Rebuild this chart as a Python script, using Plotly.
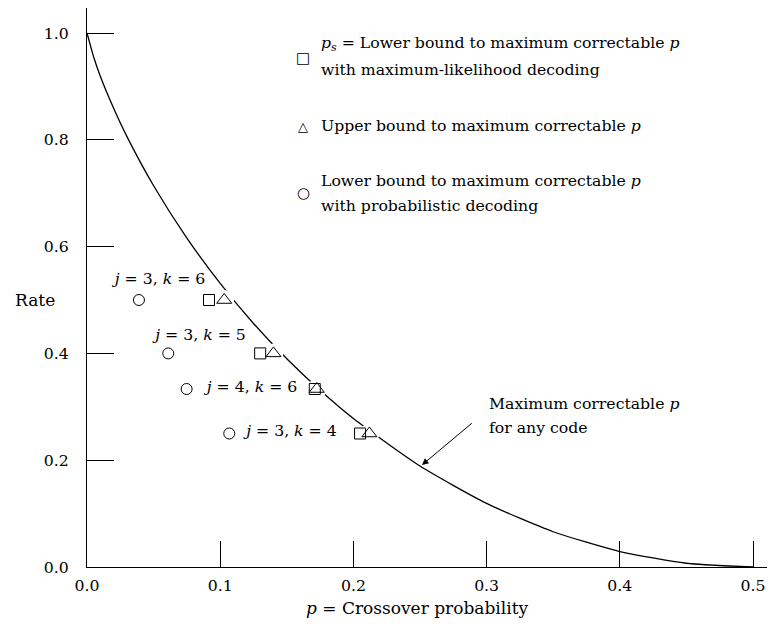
import plotly.graph_objects as go

# Capacity curve points: maximum correctable p for any code
curve_p = [0.0, 0.005, 0.01, 0.02, 0.03, 0.05, 0.075, 0.1, 0.125, 0.15, 0.175,
           0.2, 0.25, 0.3, 0.35, 0.4, 0.45, 0.5]
curve_rate = [1.0, 0.955, 0.919, 0.859, 0.806, 0.714, 0.616, 0.531, 0.456, 0.390,
              0.331, 0.278, 0.189, 0.119, 0.066, 0.029, 0.007, 0.0]

# Code points
code_labels = ["<i>j</i> = 3, <i>k</i> = 6", "<i>j</i> = 3, <i>k</i> = 5",
               "<i>j</i> = 4, <i>k</i> = 6", "<i>j</i> = 3, <i>k</i> = 4"]
code_rate = [0.5, 0.4, 1/3, 0.25]
p_ml_lower = [0.0916, 0.130, 0.171, 0.205]      # squares
p_upper = [0.103, 0.140, 0.1725, 0.212]         # triangles
p_prob_lower = [0.039, 0.061, 0.0748, 0.1068]   # circles
label_p = [0.0548, 0.0852, 0.1239, 0.1535]
label_rate = [0.537, 0.4326, 0.335, 0.2528]

x_ticks = [0.0, 0.1, 0.2, 0.3, 0.4, 0.5]
y_ticks = [0.0, 0.2, 0.4, 0.6, 0.8, 1.0]

FONT = "DejaVu Serif"
FS = 15.7
# page body has an 8px margin: the figure starts at (8, 8)
OFF = 8
L, R, T, B = 87 - OFF, 5, 0, 64
W, H = 775 - OFF, 631 - OFF
PW = W - L - R
PH = H - T - B
Y0 = 567  # pixel of rate 0 in window

fig = go.Figure()

fig.add_trace(go.Scatter(x=curve_p, y=curve_rate, mode="lines",
                         line=dict(color="black", width=1.3, shape="spline", smoothing=0.6), hoverinfo="skip"))
# white halos creating gaps in the curve around the marker pairs
fig.add_trace(go.Scatter(x=p_upper, y=code_rate, mode="markers",
                         marker=dict(symbol="circle", size=20, color="white", line=dict(width=0)), hoverinfo="skip"))
fig.add_trace(go.Scatter(x=p_ml_lower, y=code_rate, mode="markers",
                         marker=dict(symbol="square-open", size=11, color="black", line=dict(width=1, color="black"))))
fig.add_trace(go.Scatter(x=p_upper, y=code_rate, mode="markers",
                         marker=dict(symbol="triangle-up-open", size=13, color="black", line=dict(width=1, color="black"))))
fig.add_trace(go.Scatter(x=p_prob_lower, y=code_rate, mode="markers",
                         marker=dict(symbol="circle-open", size=11, color="black", line=dict(width=1, color="black"))))
fig.add_trace(go.Scatter(x=label_p, y=label_rate, mode="text", text=code_labels,
                         textfont=dict(family=FONT, size=FS, color="black"), hoverinfo="skip"))

fig.update_layout(
    width=W, height=H,
    margin=dict(l=L, r=R, t=T, b=B, autoexpand=False),
    paper_bgcolor="white", plot_bgcolor="white",
    showlegend=False,
    font=dict(family=FONT, size=FS, color="black"),
    xaxis=dict(range=[0, PW / 1332.0], tickvals=x_ticks, ticktext=["%.1f" % v for v in x_ticks],
               ticks="inside", ticklen=26, tickwidth=1.3, tickcolor="black", ticklabelstandoff=4,
               showline=True, linecolor="black", linewidth=1.3, showgrid=False, zeroline=False,
               tickfont=dict(family=FONT, size=FS)),
    yaxis=dict(range=[0, PH / 534.0], tickvals=y_ticks, ticktext=["%.1f" % v for v in y_ticks],
               ticks="inside", ticklen=27, tickwidth=1.3, tickcolor="black", ticklabelstandoff=14,
               showline=True, linecolor="black", linewidth=1.3, showgrid=False, zeroline=False,
               tickfont=dict(family=FONT, size=FS)),
)


def px_x(px):
    return (px - 87) / PW


def px_y(py):
    return (Y0 - py) / PH


# Axis titles
fig.add_annotation(xref="paper", yref="paper", x=px_x(417), y=px_y(608), text="<i>p</i> = Crossover probability",
                   showarrow=False, font=dict(family=FONT, size=17), xanchor="center", yanchor="middle")
fig.add_annotation(xref="paper", yref="paper", x=px_x(35), y=px_y(300), text="Rate",
                   showarrow=False, font=dict(family=FONT, size=17), xanchor="center", yanchor="middle")

# Legend-like key
key_font = dict(family=FONT, size=FS, color="black")
fig.add_annotation(xref="paper", yref="paper", x=px_x(303), y=px_y(58), text="□", showarrow=False,
                   font=dict(family=FONT, size=15), xanchor="center", yanchor="middle")
fig.add_annotation(xref="paper", yref="paper", x=px_x(303), y=px_y(126), text="△", showarrow=False,
                   font=dict(family=FONT, size=13), xanchor="center", yanchor="middle")
fig.add_annotation(xref="paper", yref="paper", x=px_x(303), y=px_y(193), text="○", showarrow=False,
                   font=dict(family=FONT, size=15), xanchor="center", yanchor="middle")

key_lines = [
    ("<i>p<sub>s</sub></i> = Lower bound to maximum correctable <i>p</i>", 44),
    ("with maximum-likelihood decoding", 69),
    ("Upper bound to maximum correctable <i>p</i>", 125),
    ("Lower bound to maximum correctable <i>p</i>", 180),
    ("with probabilistic decoding", 205),
]
for txt, ypx in key_lines:
    fig.add_annotation(xref="paper", yref="paper", x=px_x(319), y=px_y(ypx), text=txt,
                       showarrow=False, font=key_font, xanchor="left", yanchor="middle", align="left")

# Arrow annotation
fig.add_annotation(x=0.2515, y=0.191, ax=0.29, ay=0.2715, xref="x", yref="y", axref="x", ayref="y",
                   text="", showarrow=True, arrowhead=2, arrowsize=1.3, arrowwidth=1, arrowcolor="black")
for txt, ypx in [("Maximum correctable <i>p</i>", 403), ("for any code", 427)]:
    fig.add_annotation(xref="paper", yref="paper", x=px_x(487), y=px_y(ypx), text=txt,
                       showarrow=False, font=key_font, xanchor="left", yanchor="middle", align="left")

fig.write_html("out.html")
